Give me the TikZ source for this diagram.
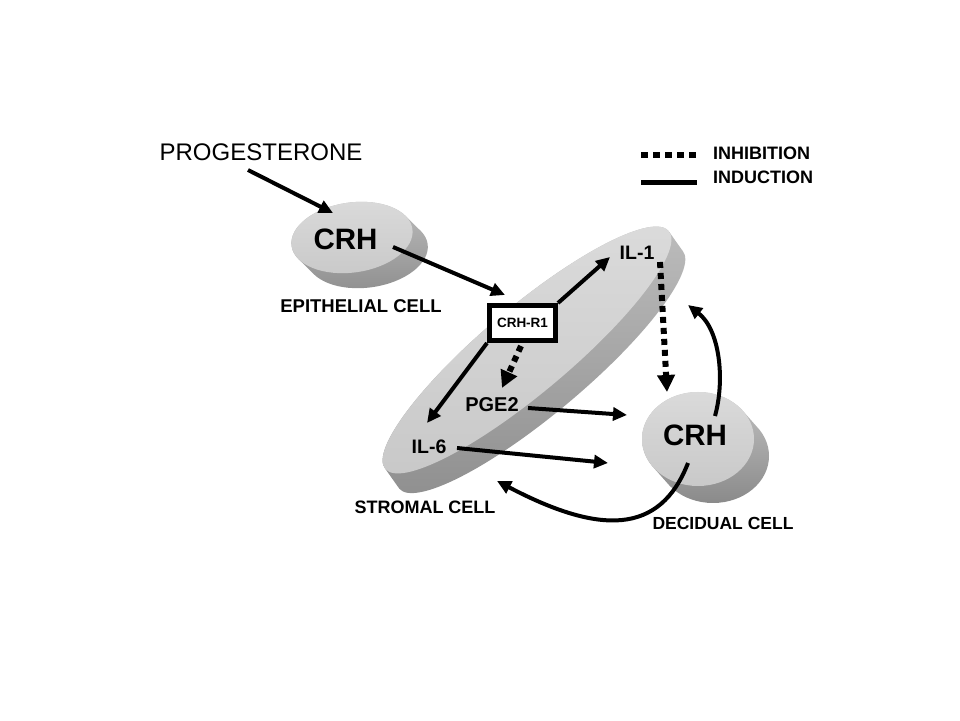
\documentclass[tikz,border=0pt]{standalone}
\usepackage{fontspec}
\setmainfont{Liberation Sans}
\usetikzlibrary{arrows.meta}
\definecolor{facetop}{HTML}{DADADA}
\definecolor{facebot}{HTML}{C9C9C9}
\definecolor{sidelight}{HTML}{C4C4C4}
\definecolor{sidedark}{HTML}{888888}
\newcommand\myfs[1]{\fontsize{#1}{#1}\selectfont}
% #1 cx, #2 cy, #3 angle, #4 rx, #5 ry, #6 dx, #7 dy (local)
\newcommand\mycell[7]{%
\begin{scope}[shift={(#1,#2)},rotate=#3]
 \begin{scope}
  \clip \foreach \k in {0,...,16}{ ({#6*\k/16},{#7*\k/16}) ellipse ({#4} and {#5}) };
  \shade[top color=sidelight,bottom color=sidedark] ({-#4-30},{#5+5}) rectangle ({#4+30},{#7-#5-5});
 \end{scope}
 \shade[top color=facetop,bottom color=facebot] (0,0) ellipse ({#4} and {#5});
\end{scope}}
\begin{document}
\begin{tikzpicture}[x=1pt,y=1pt,
  txt/.style={inner sep=0pt,font=\bfseries\myfs{18}},
  big/.style={inner sep=0pt,font=\bfseries\myfs{29.5}},
  mid/.style={inner sep=0pt,font=\bfseries\myfs{19.5}},
  rbox/.style={draw=black,line width=5pt,fill=white,minimum width=66pt,minimum height=35pt,inner sep=0pt,font=\bfseries\myfs{13.5}},
  ind/.style={line width=4pt,-{Triangle[length=14pt,width=13pt]}},
  inh/.style={line width=6pt,dash pattern=on 6pt off 5pt,-{Triangle[length=17pt,width=17pt]}},
  legdot/.style={line width=6pt,dash pattern=on 7pt off 5pt},
  legsol/.style={line width=5pt}]
\fill[white] (0,0) rectangle (960,720);
\useasboundingbox (0,0) rectangle (960,720);

% cells
\mycell{352}{482.5}{8}{61}{35}{13}{-17}
\mycell{527}{370}{40}{185}{43}{-2}{-24}
\mycell{698}{281}{0}{56}{47}{15}{-17}

% texts
\node[inner sep=0pt,font=\myfs{24}] (prog) at (261,568) {PROGESTERONE};
\node[big] (crhE) at (345.5,481) {CRH};
\node[txt,font=\bfseries\myfs{18.5}] (epi) at (361,414) {EPITHELIAL CELL};
\node[rbox] (r1) at (522.5,397) {CRH-R1};
\node[mid] (il1) at (637,467) {IL-1};
\node[mid,font=\bfseries\myfs{20}] (pge) at (492,315) {PGE2};
\node[mid] (il6) at (429,273) {IL-6};
\node[txt] (str) at (425,213) {STROMAL CELL};
\node[big] (crhD) at (695,285) {CRH};
\node[txt,font=\bfseries\myfs{17.5}] (dec) at (723,197) {DECIDUAL CELL};
\node[txt,anchor=west] (inhl) at (713,567) {INHIBITION};
\node[txt,anchor=west] (indl) at (713,543) {INDUCTION};

% legend
\coordinate (ld1) at (641,564.5);
\coordinate (ld2) at (697,564.5);
\coordinate (ls1) at (641,537.5);
\coordinate (ls2) at (697,537.5);
\draw[legdot] (ld1) -- (ld2);
\draw[legsol] (ls1) -- (ls2);

% connector end points
\coordinate (p1a) at (248,550);
\coordinate (p1b) at (333,507);
\coordinate (p2a) at (393,473);
\coordinate (p2b) at (505,425);
\coordinate (p3b) at (610,463);
\coordinate (p4b) at (427,297);
\coordinate (p5a) at (521,374);
\coordinate (p5b) at (502,332);
\coordinate (p6a) at (660,458);
\coordinate (p6b) at (667,328);
\coordinate (p7a) at (528,312);
\coordinate (p7b) at (627,305);
\coordinate (p8a) at (457,272);
\coordinate (p8b) at (608,257);
\coordinate (p9a) at (715,304);
\coordinate (p9b) at (688,415);
\coordinate (p10a) at (688,257);
\coordinate (p10b) at (497,239);

\draw[ind] (p1a) -- (p1b);
\draw[ind] (p2a) -- (p2b);
\draw[ind] (r1.north east) -- (p3b);
\draw[ind] (r1.south west) -- (p4b);
\draw[inh] (p5a) -- (p5b);
\draw[inh] (p6a) -- (p6b);
\draw[ind] (p7a) -- (p7b);
\draw[ind] (p8a) -- (p8b);
\draw[ind] (p9a) .. controls (725,340) and (720,390) .. (p9b);
\draw[ind] (p10a) .. controls (660,185) and (600,185) .. (p10b);
\end{tikzpicture}
\end{document}
